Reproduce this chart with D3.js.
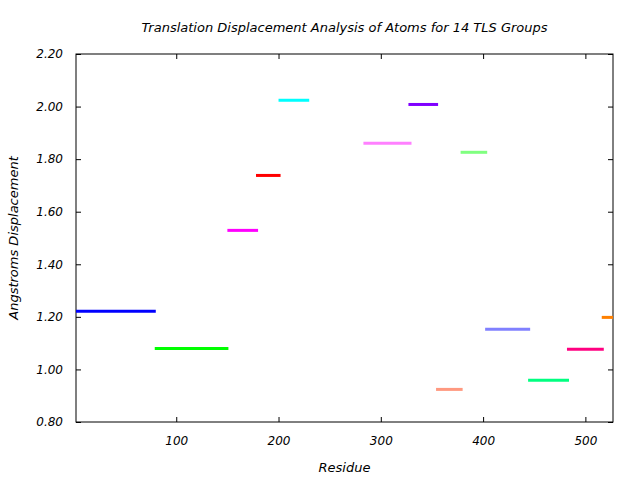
<!DOCTYPE html>
<html>
<head>
<meta charset="utf-8">
<script src="https://cdn.jsdelivr.net/npm/d3@7"></script>
<style>
  body { margin: 0; background: #fff; }
  text { font-family: "DejaVu Sans", sans-serif; font-style: italic; fill: #000; }
</style>
</head>
<body>
<div id="chart"></div>
<script>
"use strict";

// TLS groups: residue range start/end and translation displacement
var groupStart = [2, 79, 150, 178, 200, 283, 327, 354, 378, 402, 444, 482, 516];
var groupEnd = [80, 151, 180, 202, 230, 330, 356, 380, 404, 446, 484, 518, 527];
var displacement = [1.221, 1.080, 1.529, 1.738, 2.024, 1.860, 2.008, 0.924, 1.826, 1.153, 0.959, 1.077, 1.198];
var groupColors = ["#0000ff", "#00ff00", "#ff00ff", "#ff0000", "#00ffff", "#ff80ff", "#8000ff",
    "#ff9980", "#80ff80", "#8080ff", "#00ff80", "#ff0080", "#ff8000"];
var xTicks = [100, 200, 300, 400, 500];
var yTicks = [0.8, 1.0, 1.2, 1.4, 1.6, 1.8, 2.0, 2.2];

var width = 640, height = 480;
var margin = { top: 54, right: 27, bottom: 58, left: 76 };
var innerW = width - margin.left - margin.right;
var innerH = height - margin.top - margin.bottom;

var svg = d3.select("#chart").append("svg")
    .attr("width", width)
    .attr("height", height);

var x = d3.scaleLinear().domain([2, 527]).range([0, innerW]);
var y = d3.scaleLinear().domain([0.8, 2.2]).range([innerH, 0]);

var g = svg.append("g")
    .attr("transform", "translate(" + margin.left + "," + margin.top + ")");

// Inward ticks on all four sides, like gnuplot
function styleAxis(sel) {
    sel.select(".domain").remove();
    sel.selectAll("line").attr("stroke", "#000");
    sel.selectAll("text").style("font-size", "12px").style("font-style", "italic");
}

g.append("g")
    .attr("transform", "translate(0," + innerH + ")")
    .call(d3.axisBottom(x).tickValues(xTicks).tickSizeInner(-5).tickSizeOuter(0).tickPadding(14))
    .call(styleAxis);
g.append("g")
    .call(d3.axisTop(x).tickValues(xTicks).tickSizeInner(-5).tickSizeOuter(0).tickFormat(""))
    .call(styleAxis);
g.append("g")
    .call(d3.axisLeft(y).tickValues(yTicks).tickSizeInner(-5).tickSizeOuter(0).tickPadding(13)
        .tickFormat(d3.format(".2f")))
    .call(styleAxis);
g.append("g")
    .attr("transform", "translate(" + innerW + ",0)")
    .call(d3.axisRight(y).tickValues(yTicks).tickSizeInner(-5).tickSizeOuter(0).tickFormat(""))
    .call(styleAxis);

g.append("rect")
    .attr("width", innerW)
    .attr("height", innerH)
    .attr("fill", "none")
    .attr("stroke", "#000")
    .attr("stroke-width", 1);

g.selectAll("line.group")
  .data(displacement)
  .enter()
  .append("line")
    .classed("group", true)
    .attr("x1", function (d, i) { return x(groupStart[i]); })
    .attr("x2", function (d, i) { return x(groupEnd[i]); })
    .attr("y1", function (d) { return y(d); })
    .attr("y2", function (d) { return y(d); })
    .attr("stroke", function (d, i) { return groupColors[i]; })
    .attr("stroke-width", 3);

svg.append("text")
    .attr("x", margin.left + innerW / 2)
    .attr("y", 32)
    .attr("text-anchor", "middle")
    .style("font-size", "13px")
    .text("Translation Displacement Analysis of Atoms for 14 TLS Groups");

svg.append("text")
    .attr("x", margin.left + innerW / 2)
    .attr("y", 472)
    .attr("text-anchor", "middle")
    .style("font-size", "13px")
    .text("Residue");

svg.append("text")
    .attr("transform", "translate(18," + (margin.top + innerH / 2) + ") rotate(-90)")
    .attr("text-anchor", "middle")
    .style("font-size", "13px")
    .text("Angstroms Displacement");
</script>
</body>
</html>
